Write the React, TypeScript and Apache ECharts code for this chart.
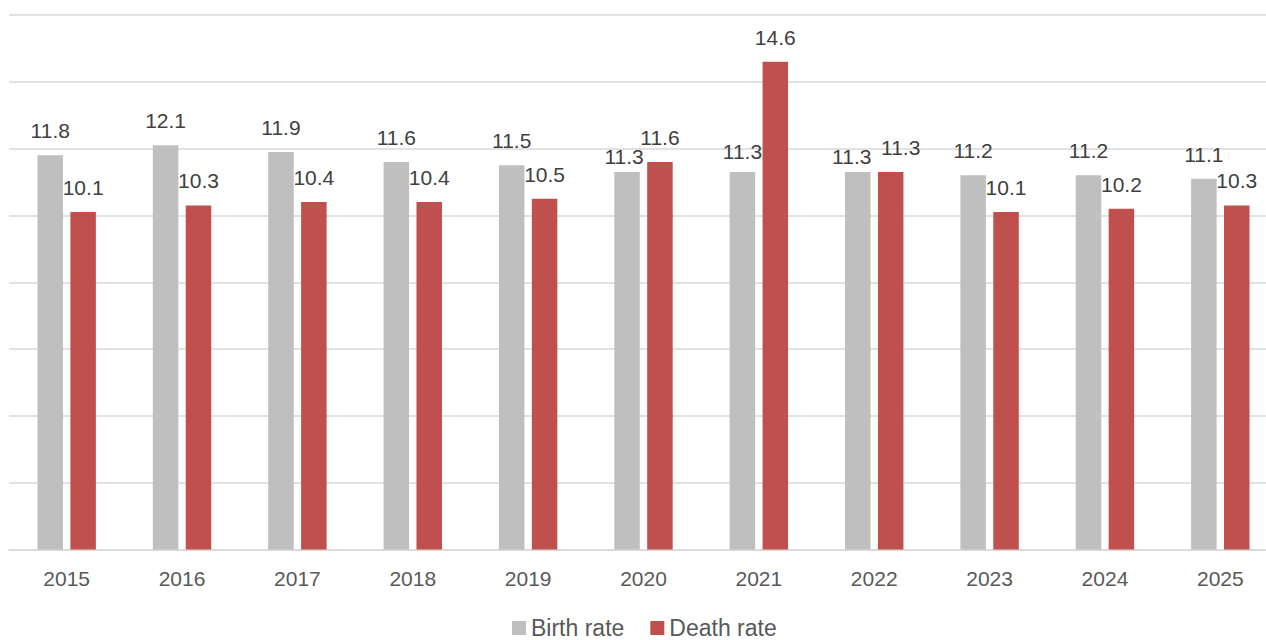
import React, { useEffect, useRef } from "react";
import * as echarts from "echarts";

const years = ["2015", "2016", "2017", "2018", "2019", "2020", "2021", "2022", "2023", "2024", "2025"];
const birthRate = [11.8, 12.1, 11.9, 11.6, 11.5, 11.3, 11.3, 11.3, 11.2, 11.2, 11.1];
const deathRate = [10.1, 10.3, 10.4, 10.4, 10.5, 11.6, 14.6, 11.3, 10.1, 10.2, 10.3];
const seriesNames = ["Birth rate", "Death rate"];

// label nudges (style only), keyed by category index, to mimic the reference's collision handling
const birthLabelNudge: Record<number, number[]> = { 5: [-3, 9], 6: [0, 4], 7: [-6, 9] };
const deathLabelNudge: Record<number, number[]> = { 7: [10, 0] };

export default function App() {
  const ref = useRef<HTMLDivElement>(null);
  useEffect(() => {
    if (!ref.current) return;
    const chart = echarts.init(ref.current, undefined, { renderer: "svg" });
    const font = "Liberation Sans, Arial, sans-serif";
    const label = {
      show: true,
      position: "top",
      distance: 14,
      color: "#404040",
      fontSize: 21,
      fontFamily: font,
    };
    const withNudge = (vals: number[], nudge: Record<number, number[]>) =>
      vals.map((v, i) => (nudge[i] ? { value: v, label: { offset: nudge[i] } } : v));
    chart.setOption({
      animation: false,
      grid: { left: 9, top: 15, right: 0, height: 534.5, containLabel: false },
      legend: {
        data: seriesNames,
        left: 512,
        top: 616.5,
        padding: 0,
        itemWidth: 14,
        itemHeight: 14,
        itemGap: 26,
        icon: "rect",
        textStyle: { color: "#595959", fontSize: 23, fontFamily: font },
      },
      xAxis: {
        type: "category",
        data: years,
        axisLine: { lineStyle: { color: "#d9d9d9", width: 1.5 } },
        axisTick: { show: false },
        axisLabel: { color: "#595959", fontSize: 21, fontFamily: font, margin: 18 },
      },
      yAxis: {
        type: "value",
        min: 0,
        max: 16,
        interval: 2,
        axisLabel: { show: false },
        axisLine: { show: false },
        axisTick: { show: false },
        splitLine: { lineStyle: { color: "#d9d9d9", width: 1.5 } },
      },
      series: [
        {
          name: seriesNames[0],
          type: "bar",
          data: withNudge(birthRate, birthLabelNudge),
          barWidth: 25.5,
          barGap: "29%",
          itemStyle: { color: "#bfbfbf" },
          label,
        },
        {
          name: seriesNames[1],
          type: "bar",
          data: withNudge(deathRate, deathLabelNudge),
          barWidth: 25.5,
          barGap: "29%",
          itemStyle: { color: "#c0504d" },
          label,
        },
      ],
    });
    return () => chart.dispose();
  }, []);
  return (
    <div
      ref={ref}
      style={{ position: "fixed", left: 0, top: 0, width: 1278, height: 640, background: "#fff" }}
    />
  );
}
